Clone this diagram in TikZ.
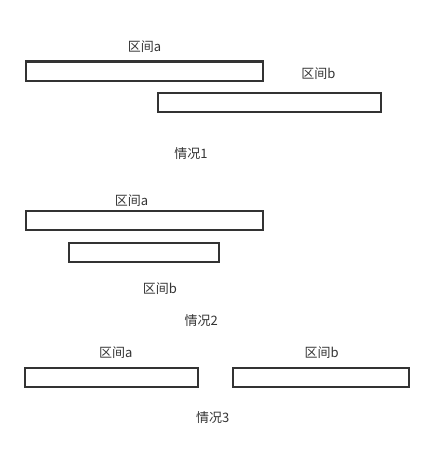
\documentclass[tikz,border=0pt]{standalone}
\usepackage{fontspec}
\setmainfont{Noto Sans CJK SC}
\definecolor{edge}{HTML}{333333}
\definecolor{txt}{HTML}{333333}
\begin{document}
\begin{tikzpicture}[x=1pt,y=-1pt,
  bar/.style={draw=edge,line width=2pt,inner sep=0pt,minimum height=19pt},
  lbl/.style={text=txt,font=\fontsize{13pt}{15pt}\selectfont,inner sep=0pt}]
\useasboundingbox (0,0) rectangle (435,460);
% case 1
\node[bar,minimum width=237pt] (c1a) at (144.5,71) {};
\node[bar,minimum width=223pt] (c1b) at (269.5,102) {};
\node[lbl] (l1a) at (144.5,46.5) {区间a};
\node[lbl] (l1b) at (318.5,73.5) {区间b};
\node[lbl] (t1) at (191,154) {情况1};
% case 2
\node[bar,minimum width=237pt] (c2a) at (144.5,220) {};
\node[bar,minimum width=150pt] (c2b) at (144.3,252) {};
\node[lbl] (l2a) at (131.5,200.5) {区间a};
\node[lbl] (l2b) at (160,288.5) {区间b};
\node[lbl] (t2) at (201.3,321) {情况2};
% case 3
\node[bar,minimum width=172.4pt] (c3a) at (111.5,377) {};
\node[bar,minimum width=176pt] (c3b) at (321.3,377) {};
\node[lbl] (l3a) at (115.8,352.3) {区间a};
\node[lbl] (l3b) at (321.7,352.3) {区间b};
\node[lbl] (t3) at (212.7,417.7) {情况3};
\end{tikzpicture}
\end{document}
